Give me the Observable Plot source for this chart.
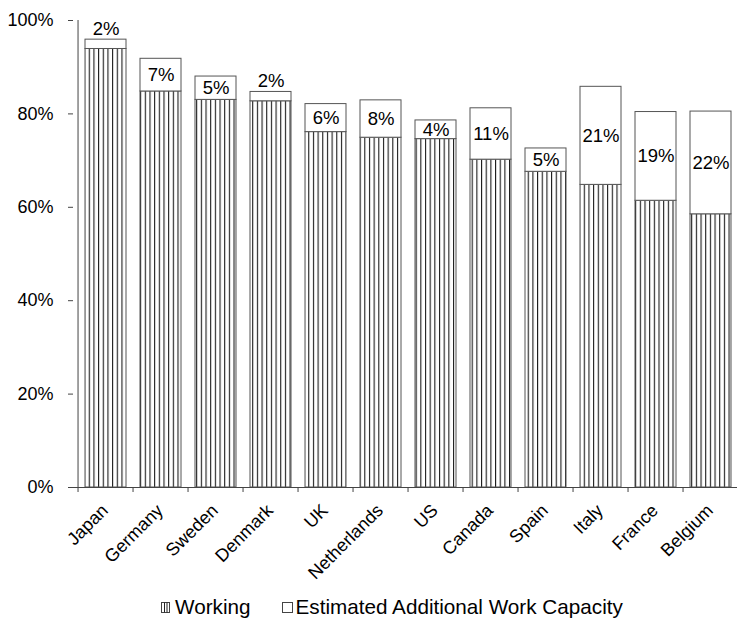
<!DOCTYPE html>
<html>
<head>
<meta charset="utf-8">
<script src="https://cdn.jsdelivr.net/npm/d3@7"></script>
<script src="https://cdn.jsdelivr.net/npm/@observablehq/plot@0.6"></script>
<style>
  body { margin: 0; background: #fff; font-family: "Liberation Sans", Arial, sans-serif; }
  #legend { height: 34px; display: flex; align-items: center; padding-left: 161px; font-size: 20.7px; color: #000; }
  #legend .item { display: flex; align-items: center; }
  #legend .item + .item { margin-left: 31px; }
  #legend svg { margin-right: 5px; }
  #legend .item + .item svg { margin-right: 3px; }
</style>
</head>
<body>
<div id="chart"></div>
<div id="legend">
  <span class="item">
    <svg width="9" height="11"><rect x="0.5" y="0.5" width="8" height="10" fill="#fff" stroke="#444"/><line x1="3.5" x2="3.5" y1="0.5" y2="10.5" stroke="#222"/><line x1="6" x2="6" y1="0.5" y2="10.5" stroke="#222"/></svg>Working
  </span>
  <span class="item">
    <svg width="11" height="11"><rect x="0.5" y="0.5" width="10" height="10" fill="#fff" stroke="#444"/></svg>Estimated Additional Work Capacity
  </span>
</div>
<script>
// Share of people working, plus estimated additional work capacity, by country
const countries = ["Japan", "Germany", "Sweden", "Denmark", "UK", "Netherlands", "US", "Canada", "Spain", "Italy", "France", "Belgium"];
const working = [93.9, 84.8, 83.0, 82.7, 76.1, 74.9, 74.6, 70.2, 67.6, 64.8, 61.4, 58.5];
const additional = [2, 7, 5, 2, 6, 8, 4, 11, 5, 21, 19, 22];
const yTicks = [0, 20, 40, 60, 80, 100];

const rows = countries.map((country, i) => ({country, working: working[i], additional: additional[i]}));
const inside = rows.filter(d => d.additional >= 3);
const above = rows.filter(d => d.additional < 3);

const xRange = [73, 744];
const step = (xRange[1] - xRange[0]) / countries.length;
const axisColor = "#444";
const font = "'Liberation Sans', Arial, sans-serif";

const chart = Plot.plot({
  width: 737,
  height: 590,
  marginLeft: 73,
  marginTop: 20,
  marginRight: 0,
  marginBottom: 103,
  style: {fontFamily: font, fontSize: "18px", color: "#000", background: "#fff"},
  x: {domain: countries, range: xRange, paddingInner: 0.25, paddingOuter: 0.125, label: null},
  y: {domain: [0, 100], range: [487, 20], label: null},
  marks: [
    // working share, hatched
    Plot.barY(rows, {x: "country", y1: () => 0, y2: "working", fill: "url(#stripes)", stroke: "#555", strokeWidth: 1}),
    // additional capacity stacked on top
    Plot.barY(rows, {x: "country", y1: "working", y2: d => d.working + d.additional, fill: "#fff", stroke: "#555", strokeWidth: 1}),
    Plot.text(inside, {x: "country", y: d => d.working + d.additional / 2, text: d => d.additional + "%", fontSize: 18.5, fill: "#000"}),
    Plot.text(above, {x: "country", y: d => d.working + d.additional, text: d => d.additional + "%", dy: -11, fontSize: 18.5, fill: "#000"}),
    // axes
    Plot.ruleY([0], {stroke: axisColor}),
    Plot.ruleX([countries[0]], {x: d => d, y1: () => 0, y2: () => 100, dx: -step / 2, stroke: axisColor}),
    Plot.ruleX(countries, {x: d => d, y1: () => 0, y2: () => 0, insetBottom: -5, dx: -step / 2, stroke: axisColor}),
    Plot.axisY({ticks: yTicks, tickFormat: d => d + "%", tickSize: 5, tickPadding: 15, stroke: axisColor, fontSize: 18, label: null}),
    Plot.axisX({tickRotate: -45, tickSize: 0, tickPadding: 20, dx: -1, fontSize: 18, label: null})
  ]
});

// vertical hatch used by the "Working" bars
const defs = d3.select(chart).insert("defs", ":first-child");
const pattern = defs.append("pattern")
  .attr("id", "stripes")
  .attr("patternUnits", "userSpaceOnUse")
  .attr("width", 4.67)
  .attr("height", 10);
pattern.append("rect").attr("width", 4.67).attr("height", 10).attr("fill", "#fff");
pattern.append("rect").attr("x", 0).attr("width", 1.1).attr("height", 10).attr("fill", "#1a1a1a");

document.getElementById("chart").appendChild(chart);
</script>
</body>
</html>
